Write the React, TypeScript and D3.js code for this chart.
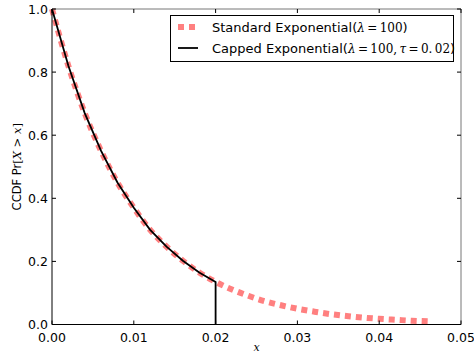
import * as d3 from "d3";
import React, { useEffect, useRef } from "react";

const xs = [
  0, 0.002, 0.004, 0.006, 0.008, 0.01, 0.012, 0.014, 0.016, 0.018, 0.02,
  0.022, 0.024, 0.026, 0.028, 0.03, 0.032, 0.034, 0.036, 0.038, 0.04, 0.042,
  0.044, 0.046,
];
const standardVals = [
  1.0, 0.82, 0.67, 0.55, 0.45, 0.37, 0.3, 0.247, 0.202, 0.165, 0.135, 0.111,
  0.091, 0.074, 0.061, 0.05, 0.041, 0.033, 0.027, 0.022, 0.018, 0.015, 0.012,
  0.01,
];
const cappedX = [0, 0.002, 0.004, 0.006, 0.008, 0.01, 0.012, 0.014, 0.016, 0.018, 0.02, 0.02];
const cappedVals = [1.0, 0.82, 0.67, 0.55, 0.45, 0.37, 0.3, 0.247, 0.202, 0.165, 0.135, 0];
const xTicks = [0, 0.01, 0.02, 0.03, 0.04, 0.05];
const yTicks = [0, 0.2, 0.4, 0.6, 0.8, 1.0];

const App = () => {
  const svgRef = useRef(null);

  useEffect(() => {
    const width = 474,
      height = 355;
    const margin = { top: 9, right: 13, bottom: 30, left: 52 };
    const svg = d3
      .select(svgRef.current)
      .html("")
      .attr("width", width)
      .attr("height", height);

    const x = d3
      .scaleLinear()
      .domain([0, 0.05])
      .range([margin.left, width - margin.right]);
    const y = d3
      .scaleLinear()
      .domain([0, 1])
      .range([height - margin.bottom - 0.5, margin.top]);

    const font = "'DejaVu Sans', sans-serif";
    const serif = "'DejaVu Serif', serif";

    const line = d3
      .line()
      .x((d) => x(d[0]))
      .y((d) => y(d[1]))
      .curve(d3.curveMonotoneX);

    svg
      .append("path")
      .datum(xs.map((v, i) => [v, standardVals[i]]))
      .attr("d", line)
      .attr("fill", "none")
      .attr("stroke", "#ff8080")
      .attr("stroke-width", 6)
      .attr("stroke-dasharray", "6,5");

    const cappedLine = d3
      .line()
      .x((d) => x(d[0]))
      .y((d) => y(d[1]))
      .curve(d3.curveLinear);
    svg
      .append("path")
      .datum(cappedX.map((v, i) => [v, cappedVals[i]]))
      .attr("d", cappedLine)
      .attr("fill", "none")
      .attr("stroke", "#000")
      .attr("stroke-width", 1.8);

    // frame
    const x0 = x(0),
      x1 = x(0.05),
      y0 = y(0),
      y1 = y(1);
    svg.append("line").attr("x1", x1).attr("x2", x1).attr("y1", y1).attr("y2", y0).attr("stroke", "#777");
    svg.append("line").attr("x1", x0).attr("x2", x1).attr("y1", y1).attr("y2", y1).attr("stroke", "#777");
    svg.append("line").attr("x1", x0).attr("x2", x0).attr("y1", y1).attr("y2", y0).attr("stroke", "#000");
    svg.append("line").attr("x1", x0).attr("x2", x1).attr("y1", y0).attr("y2", y0).attr("stroke", "#000");

    // ticks (inside, all four sides)
    xTicks.forEach((t) => {
      svg.append("line").attr("x1", x(t)).attr("x2", x(t)).attr("y1", y0).attr("y2", y0 - 4).attr("stroke", "#000");
      svg.append("line").attr("x1", x(t)).attr("x2", x(t)).attr("y1", y1).attr("y2", y1 + 4).attr("stroke", "#000");
      svg
        .append("text")
        .attr("x", x(t))
        .attr("y", y0 + 17)
        .attr("text-anchor", "middle")
        .style("font-family", font)
        .style("font-size", "12.5px")
        .text(t.toFixed(2));
    });
    yTicks.forEach((t) => {
      svg.append("line").attr("x1", x0).attr("x2", x0 + 4).attr("y1", y(t)).attr("y2", y(t)).attr("stroke", "#000");
      svg.append("line").attr("x1", x1).attr("x2", x1 - 4).attr("y1", y(t)).attr("y2", y(t)).attr("stroke", "#000");
      svg
        .append("text")
        .attr("x", x0 - 4)
        .attr("y", y(t) + 4.5)
        .attr("text-anchor", "end")
        .style("font-family", font)
        .style("font-size", "12.5px")
        .text(t.toFixed(1));
    });

    // axis labels
    svg
      .append("text")
      .attr("x", (x0 + x1) / 2)
      .attr("y", 351)
      .attr("text-anchor", "middle")
      .style("font-family", serif)
      .style("font-style", "italic")
      .style("font-size", "11px")
      .text("x");

    const yl = svg
      .append("text")
      .attr("transform", `translate(21,${(y0 + y1) / 2}) rotate(-90)`)
      .attr("text-anchor", "middle")
      .style("font-family", font)
      .style("font-size", "11.5px");
    yl.append("tspan").text("CCDF Pr");
    yl.append("tspan").style("font-family", serif).text("[");
    yl.append("tspan").style("font-family", serif).style("font-style", "italic").text("X");
    yl.append("tspan").style("font-family", serif).text(" > ");
    yl.append("tspan").style("font-family", serif).style("font-style", "italic").text("x");
    yl.append("tspan").style("font-family", serif).text("]");

    // legend
    const lg = svg.append("g");
    lg.append("rect")
      .attr("x", 170.5)
      .attr("y", 15.5)
      .attr("width", 283)
      .attr("height", 46)
      .attr("fill", "#fff")
      .attr("stroke", "#000")
      .attr("stroke-width", 1);
    lg.append("line")
      .attr("x1", 178)
      .attr("x2", 198)
      .attr("y1", 27)
      .attr("y2", 27)
      .attr("stroke", "#ff8080")
      .attr("stroke-width", 6)
      .attr("stroke-dasharray", "6,5");
    lg.append("line")
      .attr("x1", 178)
      .attr("x2", 198)
      .attr("y1", 48)
      .attr("y2", 48)
      .attr("stroke", "#000")
      .attr("stroke-width", 1.8);

    const eq = "\u2009=\u2009";
    const legendRows = [
      { y: 32, name: "Standard Exponential(", math: [["λ", true], [eq, false], ["100", false]] },
      {
        y: 53,
        name: "Capped Exponential(",
        math: [["λ", true], [eq, false], ["100,\u2009", false], ["τ", true], [eq, false], ["0.\u200902", false]],
      },
    ];
    legendRows.forEach((r) => {
      const t = lg
        .append("text")
        .attr("x", 212)
        .attr("y", r.y)
        .style("font-family", font)
        .style("font-size", "13px");
      t.append("tspan").text(r.name);
      r.math.forEach(([s, it]) => {
        t.append("tspan")
          .style("font-family", serif)
          .style("font-style", it ? "italic" : "normal")
          .style("font-size", "12px")
          .text(s);
      });
      t.append("tspan").text(")");
    });
  }, []);

  return (
    <svg
      ref={svgRef}
      style={{ position: "absolute", left: 0, top: 0, background: "#fff" }}
    ></svg>
  );
};

export default App;
